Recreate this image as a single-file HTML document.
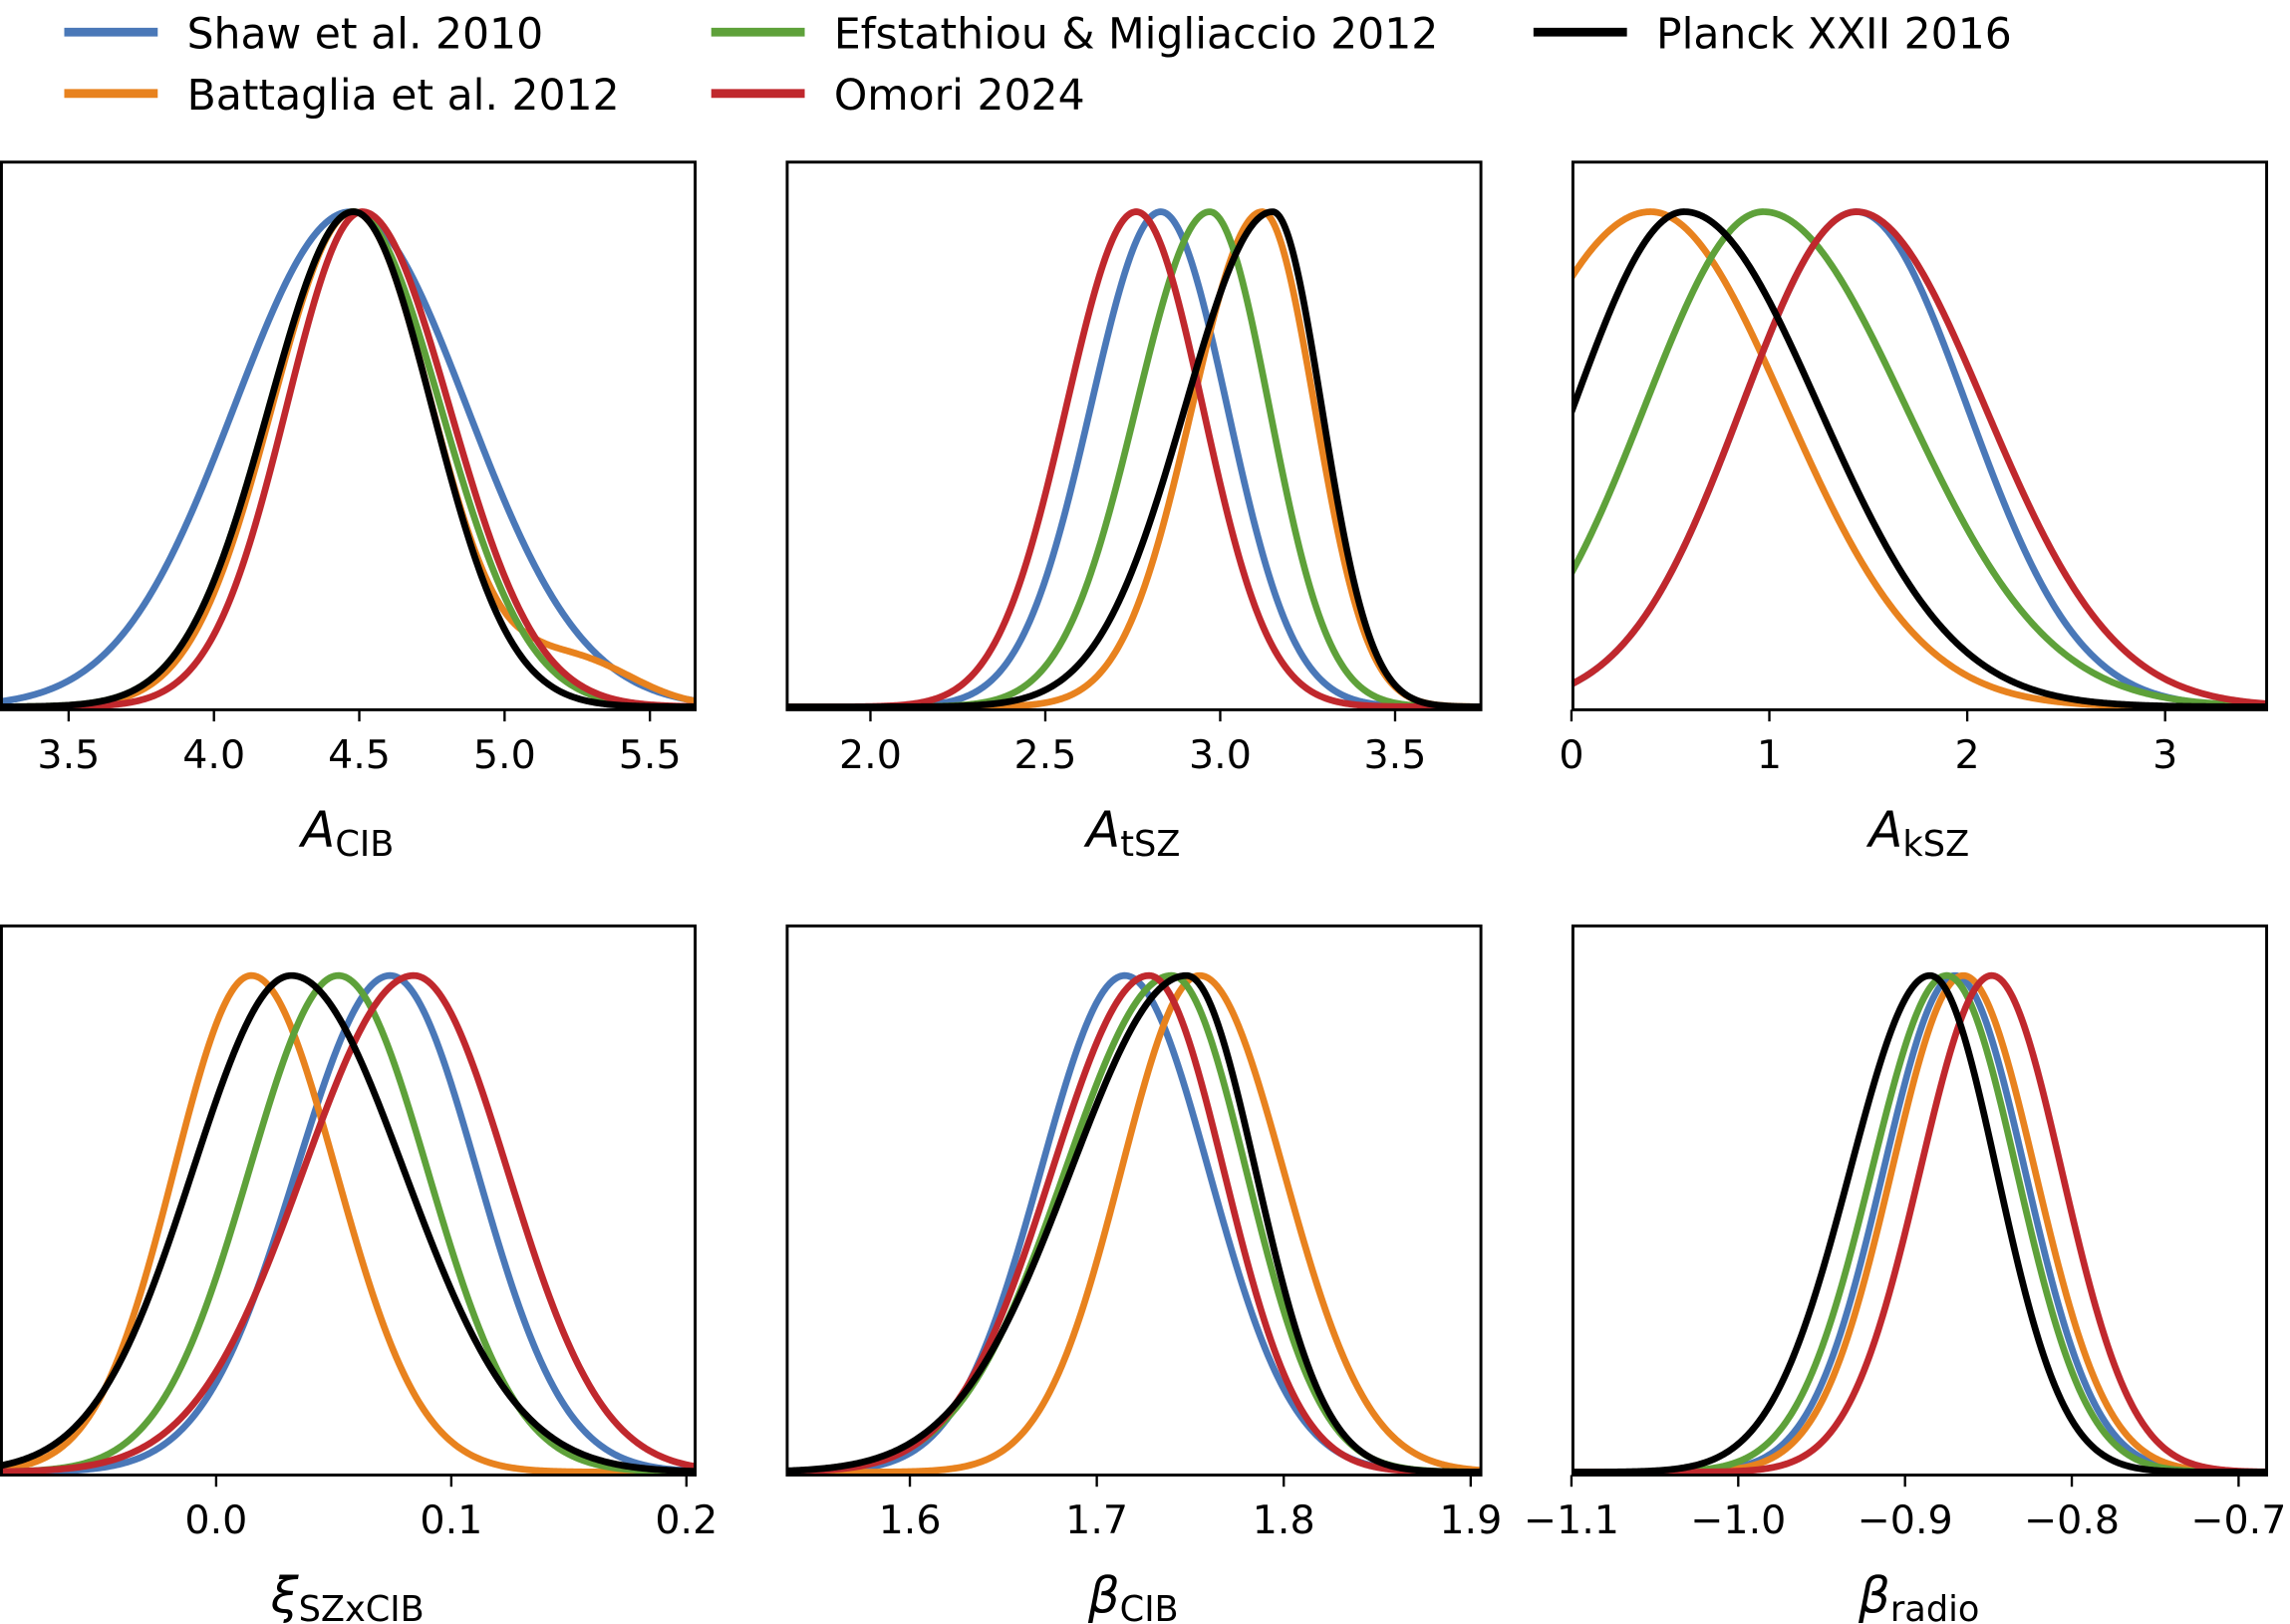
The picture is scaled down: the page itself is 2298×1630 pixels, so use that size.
<!DOCTYPE html>
<html><head><meta charset="utf-8"><style>
html,body{margin:0;padding:0;background:#fff;}
svg{display:block;}
text{font-family:"DejaVu Sans","Liberation Sans",sans-serif;fill:#000;}
</style></head><body>
<svg id="s" xmlns="http://www.w3.org/2000/svg" width="2298" height="1630" viewBox="0 0 1568 1112" preserveAspectRatio="none">
<g font-size="29">
<line x1="44" y1="22" x2="108" y2="22" stroke="#4a78b8" stroke-width="6"/><text x="128" y="33">Shaw et al. 2010</text>
<line x1="44" y1="64" x2="108" y2="64" stroke="#e8821e" stroke-width="6"/><text x="128" y="75">Battaglia et al. 2012</text>
<line x1="487" y1="22" x2="551" y2="22" stroke="#5ea13a" stroke-width="6"/><text x="571" y="33">Efstathiou &amp; Migliaccio 2012</text>
<line x1="487" y1="64" x2="551" y2="64" stroke="#c0282d" stroke-width="6"/><text x="571" y="75">Omori 2024</text>
<line x1="1050" y1="22" x2="1114" y2="22" stroke="#000" stroke-width="6"/><text x="1134" y="33">Planck XXII 2016</text>
</g>
<g id="plots"></g>
</svg>
<script>
const C={b:"#4a78b8",o:"#e8821e",g:"#5ea13a",r:"#c0282d",k:"#000"};
const P=[
 {x0:0,x1:476,y0:111,y1:486,v0:3.5,p0:47,s:199,ticks:[[3.5,"3.5"],[4.0,"4.0"],[4.5,"4.5"],[5.0,"5.0"],[5.5,"5.5"]],lab:["A","CIB"],
  c:[["b",4.47,.40,.40],["o",4.48,.28,.27,[5.25,.2,.09]],["g",4.48,.29,.30],["r",4.51,.26,.30],["k",4.48,.29,.27]]},
 {x0:538,x1:1014,y0:111,y1:486,v0:2.0,p0:596,s:239.5,ticks:[[2.0,"2.0"],[2.5,"2.5"],[3.0,"3.0"],[3.5,"3.5"]],lab:["A","tSZ"],
  c:[["b",2.83,.2,.19],["o",3.12,.2,.15],["g",2.97,.21,.17],["r",2.76,.2,.19],["k",3.15,.25,.14]]},
 {x0:1076,x1:1552,y0:111,y1:486,v0:0,p0:1076,s:135.5,ticks:[[0,"0"],[1,"1"],[2,"2"],[3,"3"]],lab:["A","kSZ"],
  c:[["b",1.44,.58,.56],["o",0.4,.75,.68],["g",0.97,.6,.72],["r",1.44,.58,.65],["k",0.57,.56,.68]]},
 {x0:0,x1:476,y0:634,y1:1010,v0:0,p0:148,s:1610,ticks:[[0,"0.0"],[0.1,"0.1"],[0.2,"0.2"]],lab:["ξ","SZxCIB"],
  c:[["b",0.074,.04,.037],["o",0.015,.033,.036],["g",0.052,.038,.038],["r",0.084,.047,.04],["k",0.032,.042,.048]]},
 {x0:538,x1:1014,y0:634,y1:1010,v0:1.6,p0:623,s:1280,ticks:[[1.6,"1.6"],[1.7,"1.7"],[1.8,"1.8"],[1.9,"1.9"]],lab:["β","CIB"],
  c:[["b",1.715,.045,.045],["o",1.755,.042,.045],["g",1.74,.057,.04],["r",1.728,.052,.04],["k",1.748,.062,.037]]},
 {x0:1076,x1:1552,y0:634,y1:1010,v0:-1.1,p0:1076,s:1142,ticks:[[-1.1,"\u22121.1"],[-1.0,"\u22121.0"],[-0.9,"\u22120.9"],[-0.8,"\u22120.8"],[-0.7,"\u22120.7"]],lab:["β","radio"],
  c:[["b",-0.87,.043,.042],["o",-0.865,.043,.043],["g",-0.875,.045,.042],["r",-0.848,.043,.042],["k",-0.885,.048,.04]]}
];
const g=document.getElementById("plots");
let html="";
P.forEach((p,i)=>{
  const id="c"+i;
  html+=`<clipPath id="${id}"><rect x="${p.x0}" y="${p.y0-4}" width="${p.x1-p.x0}" height="${p.y1-p.y0+4}"/></clipPath>`;
  const base=p.y1-2, top=p.y0+34, H=base-top;
  let paths="";
  p.c.forEach(([c,mu,sl,sr,bump])=>{
    let d="";
    for(let px=p.x0;px<=p.x1;px+=1){
      const v=p.v0+(px-p.p0)/p.s;
      const sg=v<mu?sl:sr;
      let f=Math.exp(-0.5*((v-mu)/sg)**2);
      if(bump&&v>mu){f+=bump[2]*Math.exp(-0.5*((v-bump[0])/bump[1])**2)*Math.min(1,(v-mu)/0.6);}
      const y=base-H*f;
      d+=(d?"L":"M")+px+","+y.toFixed(2);
    }
    paths+=`<path d="${d}" fill="none" stroke="${C[c]}" stroke-width="4.6" stroke-linejoin="round" clip-path="url(#${id})"/>`;
  });
  html+=paths;
  html+=`<rect x="${p.x0+1}" y="${p.y0}" width="${p.x1-p.x0-1}" height="${p.y1-p.y0}" fill="none" stroke="#000" stroke-width="2"/>`;
  p.ticks.forEach(([v,t])=>{
    const x=p.p0+(v-p.v0)*p.s;
    html+=`<line x1="${x}" y1="${p.y1}" x2="${x}" y2="${p.y1+8}" stroke="#000" stroke-width="1.6"/>`;
    html+=`<text x="${x}" y="${p.y1+40}" font-size="27" text-anchor="middle">${t}</text>`;
  });
  const cx=(p.x0+p.x1)/2;
  html+=`<text x="${cx}" y="${p.y1+94}" font-size="34" text-anchor="middle"><tspan font-style="italic">${p.lab[0]}</tspan><tspan font-size="24" dy="6">${p.lab[1]}</tspan></text>`;
});
g.innerHTML=html;
</script>
</body></html>
